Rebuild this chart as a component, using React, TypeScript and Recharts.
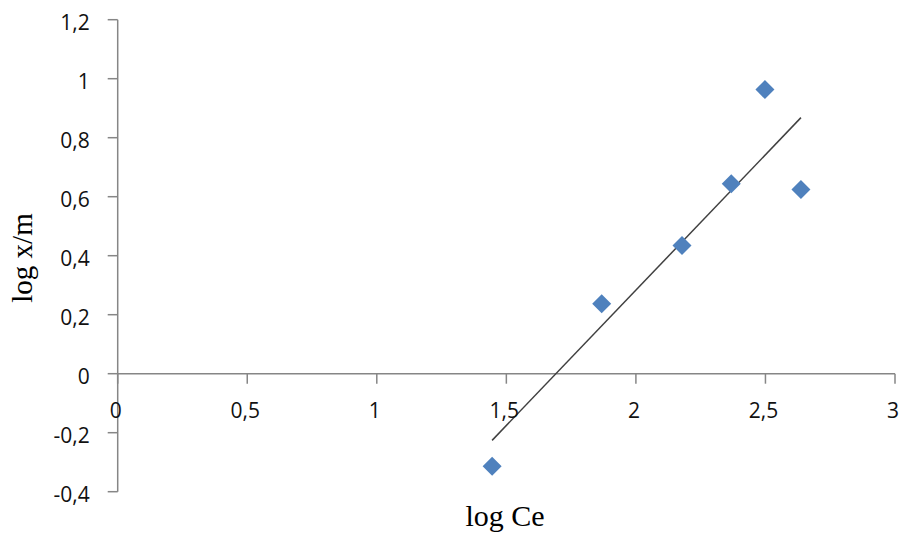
import { Label, ReferenceLine, Scatter, ScatterChart, XAxis, YAxis } from "recharts";

// measured points (log Ce, log x/m)
const LOG_CE = [1.445, 1.868, 2.178, 2.368, 2.498, 2.637];
const LOG_XM = [-0.314, 0.237, 0.435, 0.644, 0.963, 0.624];

// linear trendline ends
const TREND_X = [1.445, 2.637];
const TREND_Y = [-0.226, 0.868];

const X_TICKS = [0, 0.5, 1, 1.5, 2, 2.5, 3];
const Y_TICKS = [-0.4, -0.2, 0, 0.2, 0.4, 0.6, 0.8, 1, 1.2];

const W = 904;
const H = 533;
const TOP = 19.7;
const LEFT = 17.7;
const Y_AXIS_W = 100;
const X_AXIS_H = 41.3;
const PLOT_H = H - TOP - X_AXIS_H;
const Y_MIN = -0.4;
const Y_MAX = 1.2;
const ZERO_Y = TOP + (PLOT_H * Y_MAX) / (Y_MAX - Y_MIN);

const AXIS_COLOR = "#868686";
const POINT_COLOR = "#4F81BD";
const TICK_FONT = "'Open Sans', Lato, sans-serif";
const TITLE_FONT = "'Liberation Serif', 'DejaVu Serif', serif";

const points = LOG_CE.map((x, i) => ({ x, y: LOG_XM[i] }));
const trend = TREND_X.map((x, i) => ({ x, y: TREND_Y[i] }));

const fmt = (v: number) => String(v).replace(".", ",");

function Diamond(props: any) {
  const { cx, cy } = props;
  const r = 9.5;
  return (
    <polygon
      points={`${cx},${cy - r} ${cx + r},${cy} ${cx},${cy + r} ${cx - r},${cy}`}
      fill={POINT_COLOR}
    />
  );
}

// x axis crosses at y = 0, so draw its ticks there instead of at the bottom
function XTick(props: any) {
  const { x, payload } = props;
  return (
    <g>
      <line x1={x} x2={x} y1={ZERO_Y} y2={ZERO_Y + 10} stroke={AXIS_COLOR} strokeWidth={1.5} />
      <text
        x={x - 2}
        y={ZERO_Y + 36}
        textAnchor="middle"
        dominantBaseline="central"
        fontFamily={TICK_FONT}
        fontSize={21}
        fill="#111"
      >
        {fmt(payload.value)}
      </text>
    </g>
  );
}

export default function App() {
  return (
    <div style={{ position: "absolute", left: 0, top: 0, background: "#fff" }}>
      <ScatterChart width={W} height={H} margin={{ top: TOP, right: 9, left: LEFT, bottom: 0 }}>
        <XAxis
          type="number"
          dataKey="x"
          domain={[0, 3]}
          ticks={X_TICKS}
          axisLine={false}
          tickLine={false}
          tick={<XTick />}
          height={X_AXIS_H}
          interval={0}
        >
          <Label
            content={() => (
              <text x={505} y={526} textAnchor="middle" fontFamily={TITLE_FONT} fontSize={30} fill="#000">
                log Ce
              </text>
            )}
          />
        </XAxis>
        <YAxis
          type="number"
          dataKey="y"
          domain={[Y_MIN, Y_MAX]}
          ticks={Y_TICKS}
          width={Y_AXIS_W}
          interval={0}
          tickFormatter={fmt}
          tickSize={10}
          tickMargin={18}
          axisLine={{ stroke: AXIS_COLOR, strokeWidth: 1.5 }}
          tickLine={{ stroke: AXIS_COLOR, strokeWidth: 1.5 }}
          tick={{ fontFamily: TICK_FONT, fontSize: 21, fill: "#111", dy: 3 }}
        >
          <Label
            content={() => (
              <text
                x={32}
                y={258}
                transform="rotate(-90 32 258)"
                textAnchor="middle"
                fontFamily={TITLE_FONT}
                fontSize={29}
                fill="#000"
              >
                log x/m
              </text>
            )}
          />
        </YAxis>
        <ReferenceLine y={0} stroke={AXIS_COLOR} strokeWidth={1.5} />
        <Scatter
          data={trend}
          line={{ stroke: "#404040", strokeWidth: 1.5 }}
          shape={() => <g />}
          isAnimationActive={false}
          legendType="none"
        />
        <Scatter data={points} shape={<Diamond />} isAnimationActive={false} />
      </ScatterChart>
    </div>
  );
}
